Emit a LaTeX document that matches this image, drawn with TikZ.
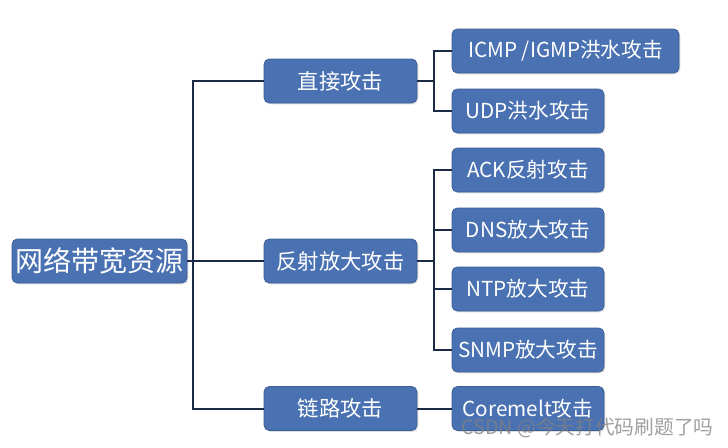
\documentclass[tikz,border=0pt]{standalone}
\usepackage{fontspec}
\setmainfont{Noto Sans CJK SC}
\usetikzlibrary{shadows}
\definecolor{boxfill}{HTML}{4A72B2}
\definecolor{boxline}{HTML}{3A5E96}
\definecolor{connc}{HTML}{1C2B45}
\begin{document}
\begin{tikzpicture}[x=0.75pt,y=-0.75pt,
  box/.style={draw=boxline, line width=0.6pt, fill=boxfill, rounded corners=4pt,
    text=white, inner sep=0pt, minimum height=33pt,
    font=\fontsize{15.5}{18}\selectfont,
    drop shadow={opacity=0.25, shadow xshift=1pt, shadow yshift=-1pt}},
  rootbox/.style={box, minimum width=131.25pt, font=\fontsize{21}{25}\selectfont},
  midbox/.style={box, minimum width=114.75pt, font=\fontsize{16}{19}\selectfont},
  leafbox/.style={box, minimum width=114pt},
  conn/.style={draw=connc, line width=1.5pt}]
\useasboundingbox (0,0) rectangle (728,447);
\fill[white] (0,0) rectangle (728,447);

\node[rootbox] (root) at (99.5,261) {网络带宽资源};

\node[midbox] (m1) at (340.5,81) {直接攻击};
\node[midbox] (m2) at (340.5,261) {反射放大攻击};
\node[midbox] (m3) at (340.5,408.5) {链路攻击};

\node[leafbox, minimum width=170.25pt] (l1) at (565.5,51) {ICMP /IGMP洪水攻击};
\node[leafbox] (l2) at (528,111) {UDP洪水攻击};
\node[leafbox] (l3) at (528,170) {ACK反射攻击};
\node[leafbox] (l4) at (528,230) {DNS放大攻击};
\node[leafbox] (l5) at (528,289) {NTP放大攻击};
\node[leafbox] (l6) at (528,350) {SNMP放大攻击};
\node[leafbox] (l7) at (528,408.5) {Coremelt攻击};

\coordinate (tA) at (193,81);
\coordinate (tB) at (193,408.5);
\coordinate (bx) at (434,0);

\draw[conn] (root.east) -- (root.east -| tA);
\draw[conn] (m1.west) -- (tA) -- (tB) -- (m3.west);
\draw[conn] (m2.west) -- (m2.west -| tA);

\draw[conn] (m1.east) -- (m1.east -| bx);
\draw[conn] (l1.west) -- (l1.west -| bx) -- (l2.west -| bx) -- (l2.west);

\draw[conn] (m2.east) -- (m2.east -| bx);
\draw[conn] (l3.west) -- (l3.west -| bx) -- (l6.west -| bx) -- (l6.west);
\draw[conn] (l4.west) -- (l4.west -| bx);
\draw[conn] (l5.west) -- (l5.west -| bx);

\draw[conn] (m3.east) -- (l7.west);

\node[anchor=west, text=gray, opacity=0.75, inner sep=0pt,
  font=\fontsize{14.8}{17}\selectfont] (wm) at (461,428) {CSDN @今天打代码刷题了吗};
\end{tikzpicture}
\end{document}
